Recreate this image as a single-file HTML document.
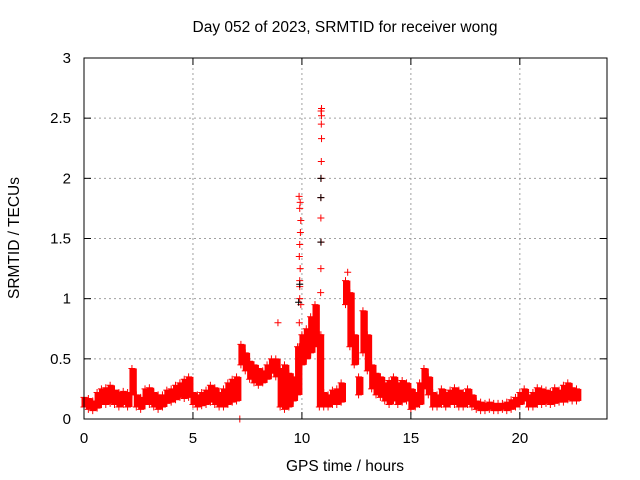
<!DOCTYPE html>
<html><head><meta charset="utf-8"><style>
html,body{margin:0;padding:0;background:#fff}
svg{display:block;font-family:"Liberation Sans",sans-serif}
</style></head><body>
<svg id="chart" width="640" height="480" viewBox="0 0 640 480">
<text x="345" y="32" font-size="15.5" text-anchor="middle">Day 052 of 2023, SRMTID for receiver wong</text>
<text x="345" y="471" font-size="15.5" text-anchor="middle">GPS time / hours</text>
<text x="19" y="238" font-size="15.5" text-anchor="middle" transform="rotate(-90 19 238)">SRMTID / TECUs</text>
<g id="grid"></g>
<g id="marks"></g>
<rect x="84" y="58" width="523" height="361" fill="none" stroke="#000" stroke-width="1"/>
<g id="ticks"></g>
</svg>
<script>
const xTicks=[0,5,10,15,20];
const yTicks=[0,0.5,1,1.5,2,2.5,3];
const yTickLabels=["0","0.5","1","1.5","2","2.5","3"];
const step=0.2;
const lo=[0.1,0.08,0.07,0.09,0.12, 0.12,0.13,0.12,0.1,0.12, 0.1,0.2,0.1,0.08,0.12, 0.12,0.1,0.08,0.1,0.13, 0.14,0.16,0.18,0.17,0.18, 0.12,0.1,0.11,0.12,0.14, 0.12,0.1,0.1,0.12,0.14, 0.15,0.45,0.4,0.33,0.3, 0.28,0.3,0.33,0.38,0.35, 0.1,0.08,0.1,0.15,0.2, 0.45,0.5,0.55,0.6,0.1, 0.1,0.1,0.12,0.12,0.14, 0.95,0.6,0.45,0.2,0.55, 0.4,0.25,0.2,0.18,0.15, 0.12,0.15,0.12,0.14,0.15, 0.08,0.1,0.12,0.25,0.2, 0.1,0.1,0.12,0.1,0.12, 0.12,0.1,0.1,0.12,0.1, 0.08,0.07,0.07,0.08,0.07, 0.07,0.08,0.07,0.08,0.1, 0.12,0.15,0.1,0.1,0.12, 0.12,0.13,0.12,0.13,0.14, 0.14,0.16,0.15,0.15];
const hi=[0.18,0.17,0.15,0.22,0.25, 0.26,0.28,0.24,0.22,0.23, 0.22,0.42,0.2,0.18,0.25, 0.26,0.22,0.2,0.2,0.24, 0.25,0.28,0.3,0.33,0.35, 0.22,0.2,0.22,0.24,0.28, 0.26,0.22,0.25,0.3,0.33, 0.35,0.62,0.55,0.48,0.45, 0.42,0.4,0.45,0.5,0.5, 0.42,0.45,0.38,0.35,0.6, 0.7,0.75,0.85,0.95,0.7, 0.22,0.2,0.24,0.25,0.3, 1.15,1.05,0.7,0.35,0.9, 0.7,0.45,0.38,0.35,0.3, 0.32,0.35,0.3,0.32,0.3, 0.25,0.22,0.3,0.42,0.35, 0.22,0.2,0.25,0.22,0.24, 0.26,0.24,0.22,0.25,0.2, 0.15,0.14,0.13,0.14,0.13, 0.13,0.13,0.14,0.16,0.18, 0.22,0.25,0.2,0.22,0.26, 0.25,0.24,0.23,0.26,0.24, 0.28,0.3,0.26,0.25];
const spikeT=[9.85,9.87,9.88,9.9,9.9,9.92,9.88,9.9,9.93,9.95,9.9,9.87,9.92,9.95,9.9, 10.87,10.88,10.87,10.86,10.87,10.88,10.87,10.87,10.88,10.89,10.9,10.89,10.9,10.88,10.9, 12.1,8.9,7.15];
const spikeV=[0.4,0.6,0.8,1.0,1.15,1.25,1.35,1.45,1.55,1.65,1.75,1.85,1.8,0.95,1.1, 0.2,0.5,0.7,1.05,1.25,1.47,1.67,1.84,2.0,2.14,2.33,2.45,2.52,2.56,2.58, 1.22,0.8,0.0];
const blackT=[9.85,10.87,10.87,10.87,9.9];
const blackV=[0.97,1.47,1.84,2.0,1.12];

const X=t=>84+t*(523/24), Y=v=>419-v*(361/3);
const NS="http://www.w3.org/2000/svg";
const grid=document.getElementById('grid'),marks=document.getElementById('marks'),ticks=document.getElementById('ticks');
function mk(tag,attrs,parent){const e=document.createElementNS(NS,tag);for(const k in attrs)e.setAttribute(k,attrs[k]);parent.appendChild(e);return e;}
xTicks.forEach(t=>{
  if(t>0){const g=mk('line',{x1:X(t),x2:X(t),y1:58,y2:419,stroke:'#a0a0a0','stroke-dasharray':'2,3'},grid);
  
  }
  const a=mk('line',{x1:X(t),x2:X(t),y1:419,y2:412,stroke:'#000'},ticks);
  
  
  const b=mk('line',{x1:X(t),x2:X(t),y1:58,y2:65,stroke:'#000'},ticks);
  
  
  const l=mk('text',{x:X(t),y:443,'font-size':15,'text-anchor':'middle'},ticks);l.textContent=String(t);
  
  
});
yTicks.forEach((v,i)=>{
  if(v>0&&v<3){const g=mk('line',{x1:84,x2:607,y1:Y(v),y2:Y(v),stroke:'#a0a0a0','stroke-dasharray':'2,3'},grid);
  
  }
  const a=mk('line',{x1:84,x2:91,y1:Y(v),y2:Y(v),stroke:'#000'},ticks);
  
  
  const b=mk('line',{x1:600,x2:607,y1:Y(v),y2:Y(v),stroke:'#000'},ticks);
  
  
  const l=mk('text',{x:71,y:Y(v)+5,'font-size':15,'text-anchor':'end'},ticks);l.textContent=yTickLabels[i];
  
  
});
function plus(t,v,col){
  const x=X(t),y=Y(v);
  const p=mk('path',{d:`M${x-3.5},${y}H${x+3.5}M${x},${y-3.5}V${y+3.5}`,stroke:col,'stroke-width':1,fill:'none'},marks);
  
  
}
lo.forEach((v,i)=>{
  const t=i*step;
  const b=mk('rect',{x:X(t)-2.5,y:Y(hi[i]),width:(523/24)*step+3,height:Y(v)-Y(hi[i]),fill:'#f00'},marks);
  
  
  plus(t,v,'#f00');plus(t,hi[i],'#f00');
});
spikeT.forEach((t,i)=>plus(t,spikeV[i],'#f00'));
blackT.forEach((t,i)=>plus(t,blackV[i],'#000'));
</script>
</body></html>
